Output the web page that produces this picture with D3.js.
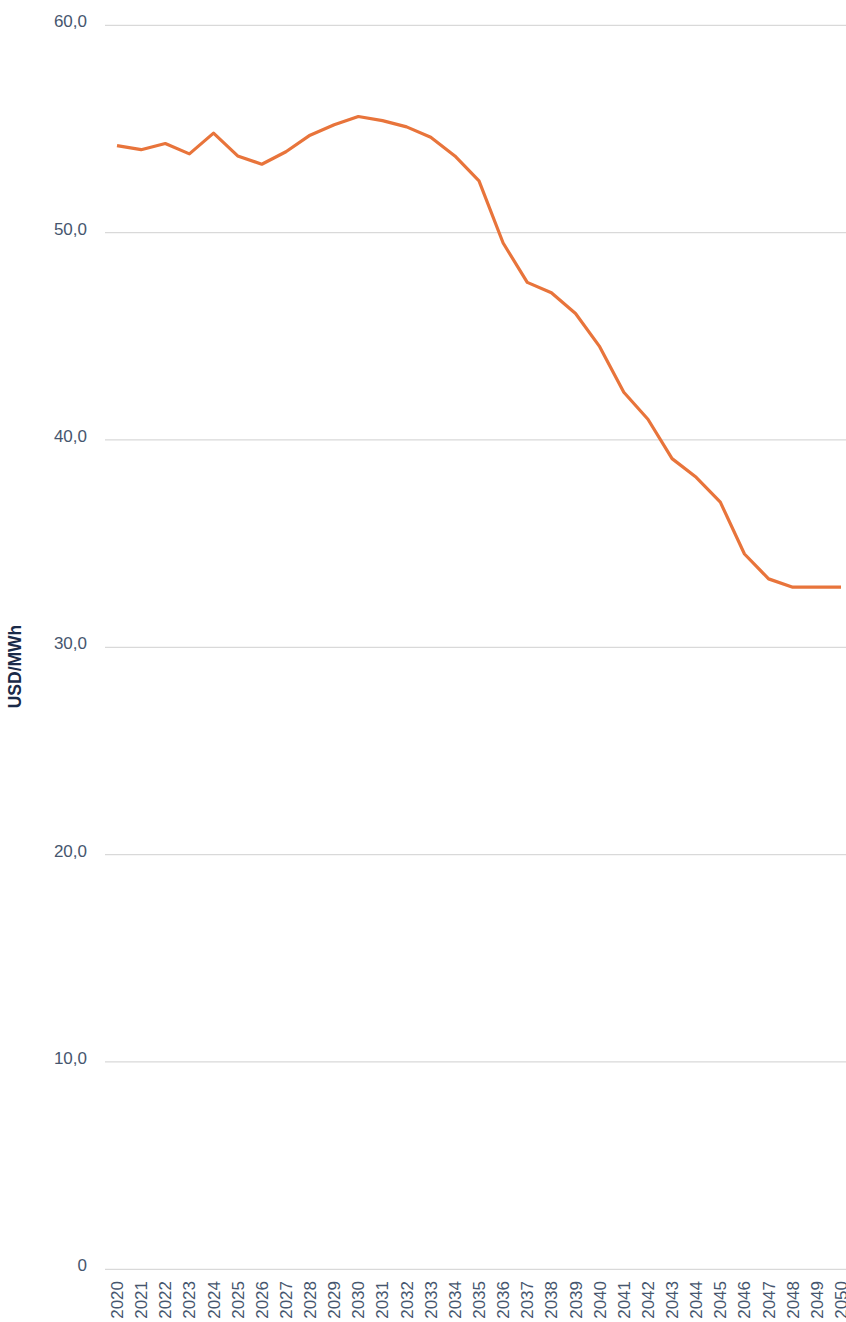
<!DOCTYPE html>
<html>
<head>
<meta charset="utf-8">
<script src="https://cdn.jsdelivr.net/npm/d3@7"></script>
<style>
  html, body { margin: 0; padding: 0; background: #ffffff; }
  svg { display: block; }
</style>
</head>
<body>
<svg id="chart" width="846" height="1322"></svg>
<script>
const years = [2020,2021,2022,2023,2024,2025,2026,2027,2028,2029,2030,2031,2032,2033,2034,2035,2036,2037,2038,2039,2040,2041,2042,2043,2044,2045,2046,2047,2048,2049,2050];
const prices = [54.2,54.0,54.3,53.8,54.8,53.7,53.3,53.9,54.7,55.2,55.6,55.4,55.1,54.6,53.7,52.5,49.5,47.6,47.1,46.1,44.5,42.3,41.0,39.1,38.2,37.0,34.5,33.3,32.9,32.9,32.9];
const yTicks = [0,10,20,30,40,50,60];
const yTickLabels = ["0","10,0","20,0","30,0","40,0","50,0","60,0"];
const yTitle = "USD/MWh";

const svg = d3.select("#chart");
const margin = {left: 105, right: 0, top: 25.3, bottom: 1322 - 1269.3};
const W = 846, H = 1322;
const font = "'Liberation Sans', Arial, Helvetica, sans-serif";

const x = d3.scalePoint().domain(years).range([117, 841]);
const y = d3.scaleLinear().domain([0, 60]).range([H - margin.bottom, margin.top]);

// gridlines
svg.append("g").selectAll("line").data(yTicks).join("line")
  .attr("x1", margin.left).attr("x2", W)
  .attr("y1", d => y(d)).attr("y2", d => y(d))
  .attr("stroke", "#d9d9d9").attr("stroke-width", 1.3);

// y labels
svg.append("g").selectAll("text").data(yTicks).join("text")
  .attr("x", 87).attr("y", d => y(d) + 2)
  .attr("text-anchor", "end")
  .attr("font-family", font)
  .attr("font-size", 17)
  .attr("fill", "#46566e")
  .text((d, i) => yTickLabels[i]);

// x labels
svg.append("g").selectAll("text").data(years).join("text")
  .attr("transform", d => `translate(${x(d) + 6},1281) rotate(-90)`)
  .attr("text-anchor", "end")
  .attr("font-family", font)
  .attr("font-size", 17)
  .attr("fill", "#46566e")
  .text(d => d);

// y title
svg.append("text")
  .attr("transform", `translate(20.5,666.5) rotate(-90)`)
  .attr("text-anchor", "middle")
  .attr("font-family", font)
  .attr("font-weight", "bold")
  .attr("font-size", 17.5)
  .attr("fill", "#1a2a48")
  .text(yTitle);

// line
const line = d3.line().x((d, i) => x(years[i])).y(d => y(d));
svg.append("path")
  .datum(prices)
  .attr("d", line)
  .attr("fill", "none")
  .attr("stroke", "#e8743b")
  .attr("stroke-width", 3.2)
  .attr("stroke-linejoin", "round");
</script>
</body>
</html>
